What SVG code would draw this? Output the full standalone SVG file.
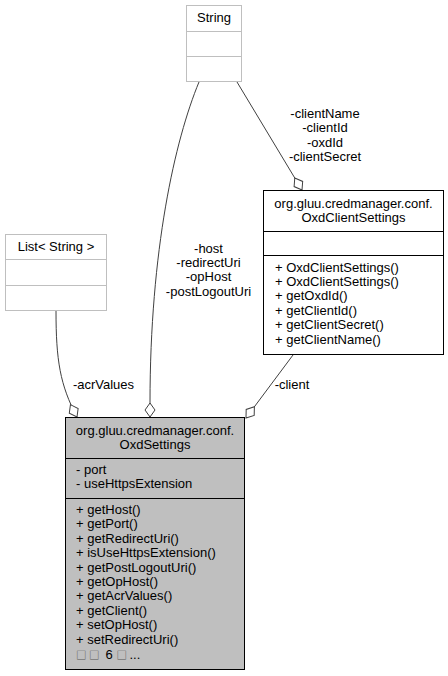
<svg xmlns="http://www.w3.org/2000/svg" width="448" height="676" viewBox="0 0 448 676">
<style>
text{font-family:"Liberation Sans",Arial,sans-serif;font-size:13px;fill:#000}
.c{text-anchor:middle}
.cjk{font-family:"Noto Sans CJK SC","DejaVu Sans",sans-serif;font-size:10.5px;letter-spacing:2.5px;fill:#555}
.lt{fill:#fff;stroke:#bfbfbf;stroke-width:1}
.ltl{stroke:#bfbfbf;stroke-width:1}
.dk{fill:#fff;stroke:#000;stroke-width:1}
.dkl{stroke:#000;stroke-width:1}
.fc{fill:#bfbfbf;stroke:#000;stroke-width:1}
.e{fill:none;stroke:#404040;stroke-width:1;marker-end:url(#od)}
</style>
<defs>
<marker id="od" viewBox="-15 -6 16 12" refX="0" refY="0" markerWidth="16" markerHeight="12" markerUnits="userSpaceOnUse" orient="auto" overflow="visible">
<path d="M0,0 L-7,-5 L-14,0 L-7,5 Z" fill="#fff" stroke="#404040" stroke-width="1"/>
</marker>
</defs>
<rect width="448" height="676" fill="#fff"/>
<g id="edges">
<path class="e" d="M237,82 L302,190"/>
<path class="e" d="M199,82 C175,140 150,250 150,403 L150,417"/>
<path class="e" d="M56,311 C56,360 60,385 77,417"/>
<path class="e" d="M293,355 L246,418"/>
<text class="c" x="325" y="118">-clientName</text>
<text class="c" x="325" y="132.4">-clientId</text>
<text class="c" x="325" y="146.8">-oxdId</text>
<text class="c" x="325" y="161.2">-clientSecret</text>
<text class="c" x="208.5" y="252.5">-host</text>
<text class="c" x="208.5" y="266.9">-redirectUri</text>
<text class="c" x="208.5" y="281.3">-opHost</text>
<text class="c" x="208.5" y="295.7">-postLogoutUri</text>
<text class="c" x="103.5" y="389">-acrValues</text>
<text class="c" x="292" y="389">-client</text>
</g>
<g id="String">
<rect class="lt" x="186.5" y="5.5" width="55" height="76"/>
<line class="ltl" x1="186.5" y1="31.5" x2="241.5" y2="31.5"/>
<line class="ltl" x1="186.5" y1="56.5" x2="241.5" y2="56.5"/>
<text class="c" x="214" y="22">String</text>
</g>
<g id="ListString">
<rect class="lt" x="5.5" y="234.5" width="101" height="76"/>
<line class="ltl" x1="5.5" y1="259.5" x2="106.5" y2="259.5"/>
<line class="ltl" x1="5.5" y1="285.5" x2="106.5" y2="285.5"/>
<text class="c" x="56" y="251">List&lt; String &gt;</text>
</g>
<g id="OxdClientSettings">
<rect class="dk" x="263.5" y="190.5" width="180" height="164"/>
<line class="dkl" x1="263.5" y1="231.5" x2="443.5" y2="231.5"/>
<line class="dkl" x1="263.5" y1="255.5" x2="443.5" y2="255.5"/>
<text class="c" x="353.5" y="207.5">org.gluu.credmanager.conf.</text>
<text class="c" x="353.5" y="221.9">OxdClientSettings</text>
<text x="275" y="271.5">+ OxdClientSettings()</text>
<text x="275" y="285.9">+ OxdClientSettings()</text>
<text x="275" y="300.3">+ getOxdId()</text>
<text x="275" y="314.7">+ getClientId()</text>
<text x="275" y="329.1">+ getClientSecret()</text>
<text x="275" y="343.5">+ getClientName()</text>
</g>
<g id="OxdSettings">
<rect class="fc" x="65.5" y="417.5" width="179" height="252"/>
<line class="dkl" x1="65.5" y1="458.5" x2="244.5" y2="458.5"/>
<line class="dkl" x1="65.5" y1="498.5" x2="244.5" y2="498.5"/>
<text class="c" x="155" y="434.5">org.gluu.credmanager.conf.</text>
<text class="c" x="155" y="448.9">OxdSettings</text>
<text x="76" y="473.5">- port</text>
<text x="76" y="487.9">- useHttpsExtension</text>
<text x="76" y="514">+ getHost()</text>
<text x="76" y="528.4">+ getPort()</text>
<text x="76" y="542.8">+ getRedirectUri()</text>
<text x="76" y="557.2">+ isUseHttpsExtension()</text>
<text x="76" y="571.6">+ getPostLogoutUri()</text>
<text x="76" y="586">+ getOpHost()</text>
<text x="76" y="600.4">+ getAcrValues()</text>
<text x="76" y="614.8">+ getClient()</text>
<text x="76" y="629.2">+ setOpHost()</text>
<text x="76" y="643.6">+ setRedirectUri()</text>
<text x="76" y="659"><tspan class="cjk">□□</tspan> 6 <tspan class="cjk">□</tspan>...</text>
</g>
</svg>
